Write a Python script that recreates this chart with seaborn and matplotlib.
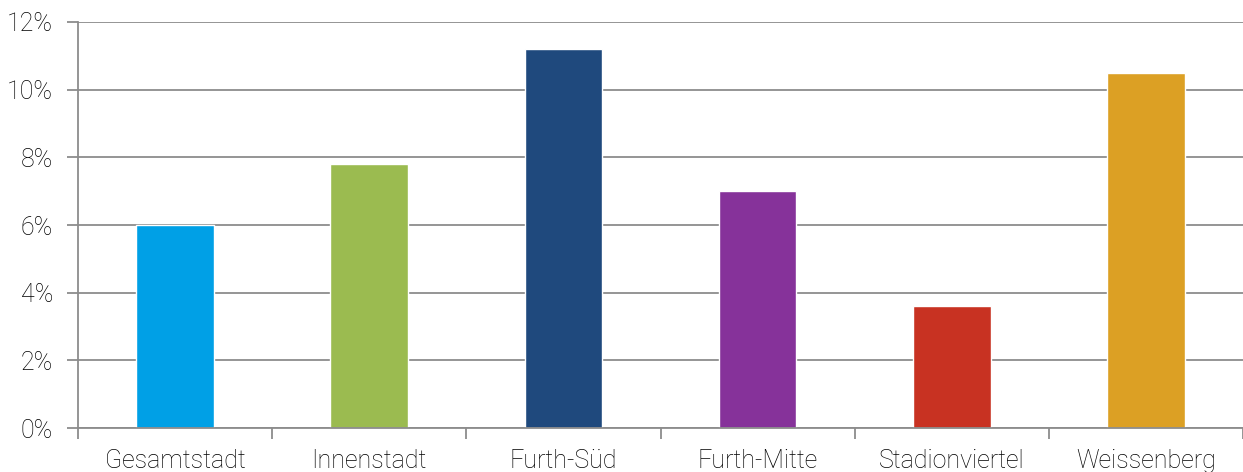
import matplotlib
matplotlib.use("Agg")
import matplotlib.pyplot as plt
import matplotlib.ticker as mticker
import seaborn as sns
import pandas as pd

# Daten
categories = ["Gesamtstadt", "Innenstadt", "Furth-Süd", "Furth-Mitte", "Stadionviertel", "Weissenberg"]
values = [6.0, 7.8, 11.2, 7.0, 3.6, 10.5]
colors = ["#00A0E6", "#9BBB50", "#1F497D", "#86329A", "#C83222", "#DCA024"]
y_ticks = [0, 2, 4, 6, 8, 10, 12]

df = pd.DataFrame({"cat": categories, "val": values})

sns.set_theme(style="white")
plt.rcParams["font.family"] = ["Roboto", "DejaVu Sans"]

fig = plt.figure(figsize=(12.43, 4.72), dpi=100)
ax = fig.add_axes([0.0628, 0.0932, 0.9372, 0.8602])

sns.barplot(data=df, x="cat", y="val", hue="cat", palette=colors, width=0.4,
            legend=False, saturation=1, ax=ax)

ax.set_ylim(0, 12)
ax.set_xlim(-0.5, len(categories) - 0.5)
ax.set_yticks(y_ticks)
ax.yaxis.set_major_formatter(mticker.FuncFormatter(lambda v, p: f"{v:.0f}%"))
ax.grid(axis="y", color="#8c8c8c", linewidth=1.3)
ax.set_axisbelow(True)

# Striche zwischen den Kategorien
ax.set_xticks([i + 0.5 for i in range(-1, len(categories))], minor=True)
ax.tick_params(axis="x", which="minor", length=8, width=1.3, color="#8c8c8c", direction="out", bottom=True)
ax.tick_params(axis="x", which="major", length=0, pad=15, labelsize=18, labelcolor="#000000")
ax.tick_params(axis="y", length=8, width=1.3, color="#8c8c8c", direction="out", left=True,
               pad=10, labelsize=18, labelcolor="#000000")

for s in ["top", "right"]:
    ax.spines[s].set_visible(False)
for s in ["left", "bottom"]:
    ax.spines[s].set_color("#8c8c8c")
    ax.spines[s].set_linewidth(1.3)

for lbl in ax.get_xticklabels() + ax.get_yticklabels():
    lbl.set_fontweight("light")

ax.set_xlabel("")
ax.set_ylabel("")

fig.savefig("out.png", dpi=100)
